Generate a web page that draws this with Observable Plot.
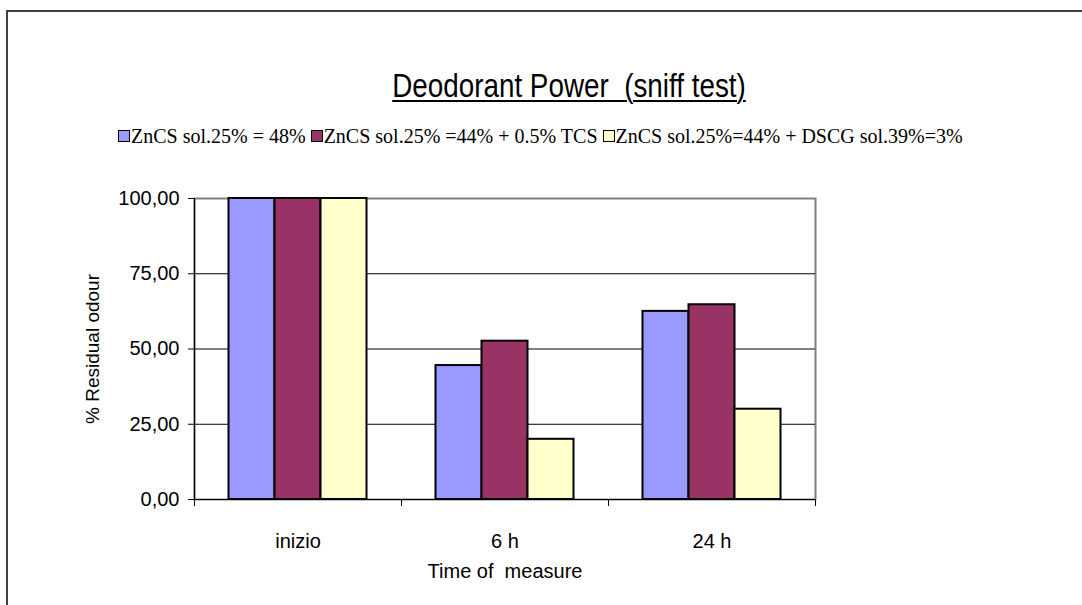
<!DOCTYPE html>
<html>
<head>
<meta charset="utf-8">
<script src="https://cdn.jsdelivr.net/npm/d3@7"></script>
<script src="https://cdn.jsdelivr.net/npm/@observablehq/plot@0.6"></script>
<style>
  html, body { margin: 0; padding: 0; background: #fff; }
  #page { position: relative; width: 1082px; height: 605px; overflow: hidden; background: #fff; }
  #box { position: absolute; left: 6px; top: 10px; width: 1200px; height: 700px;
         border-left: 2px solid #404040; border-top: 2px solid #404040; }
  #title { position: absolute; left: 569px; top: 69px; line-height: 1; white-space: pre;
           transform: translateX(-50%) scaleX(0.843); transform-origin: 50% 50%;
           font-family: "Liberation Sans", Arial, sans-serif; font-size: 33px; color: #000;
           text-decoration: underline; text-decoration-thickness: 2px; text-underline-offset: 3px; }
  #legend { position: absolute; left: 118px; top: 126px; line-height: 1; white-space: pre;
            font-family: "Liberation Serif", "Times New Roman", serif; font-size: 20px; color: #000;
            display: flex; align-items: center; }
  #legend .item { display: inline-flex; align-items: center; margin-right: 5px; }
  #legend .sw { display: inline-block; width: 10px; height: 10px; border: 1px solid #000; margin-right: 1px; }
  #chart { position: absolute; left: 0; top: 130px; }
</style>
</head>
<body>
<div id="page">
  <div id="box"></div>
  <div id="title">Deodorant Power  (sniff test)</div>
  <div id="legend"></div>
  <div id="chart"></div>
</div>
<script>
// Measurement times (categories) and the three formulations tested
const times = ["inizio", "6 h", "24 h"];
const series = [
  "ZnCS sol.25% = 48%",
  "ZnCS sol.25% =44% + 0.5% TCS",
  "ZnCS sol.25%=44% + DSCG sol.39%=3%"
];
const colors = ["#9999FF", "#993366", "#FFFFCC"];

// % residual odour per series, one value per time
const valuesA = [100, 44.5, 62.5];
const valuesB = [100, 52.6, 64.7];
const valuesC = [100, 20.0, 30.0];

const yTicks = [0, 25, 50, 75, 100];

// Grouped-bar layout: each time occupies one unit on x; bars are
// one unit / 4.5 wide with 0.75 bar-widths of gap on each side of the group.
const slot = 1 / 4.5;
const rows = [];
[valuesA, valuesB, valuesC].forEach((vals, j) => {
  vals.forEach((v, i) => {
    rows.push({
      time: times[i],
      series: series[j],
      value: v,
      x1: i + (0.75 + j) * slot,
      x2: i + (1.75 + j) * slot
    });
  });
});

const fmt = d => d.toFixed(2).replace(".", ",");

const chart = Plot.plot({
  width: 1082,
  height: 475,
  marginLeft: 194,
  marginRight: 267,
  marginTop: 68,
  marginBottom: 106,
  style: { fontFamily: "Liberation Sans, Arial, sans-serif", fontSize: "20px", color: "#000", background: "transparent" },
  x: { type: "linear", domain: [0, 3] },
  y: { domain: [0, 100] },
  color: { domain: series, range: colors },
  marks: [
    Plot.frame({ stroke: "#808080", strokeWidth: 2 }),
    Plot.ruleY([25, 50, 75], { stroke: "#000", strokeWidth: 1 }),
    Plot.rectY(rows, { x1: "x1", x2: "x2", y1: 0, y2: "value", fill: "series", stroke: "#000", strokeWidth: 2 }),
    Plot.ruleY([0], { stroke: "#000", strokeWidth: 1.2 }),
    Plot.ruleX([0], { stroke: "#000", strokeWidth: 1.2 }),
    Plot.axisY({
      ticks: yTicks, tickFormat: fmt, tickSize: 6, tickPadding: 9, fontSize: 20, label: null
    }),
    Plot.axisY({
      ticks: [], tickSize: 0, fontSize: 19,
      label: "% Residual odour", labelAnchor: "center", labelOffset: 109, labelArrow: "none"
    }),
    Plot.axisX({ ticks: [0, 1, 2, 3], tickSize: 7, tickFormat: () => "", label: null }),
    Plot.axisX({
      ticks: [0.5, 1.5, 2.5], tickSize: 0, tickPadding: 34, fontSize: 20,
      tickFormat: d => times[Math.round(d - 0.5)],
      label: "Time of  measure", labelAnchor: "center", labelOffset: 78, labelArrow: "none"
    })
  ]
});
document.getElementById("chart").append(chart);

// Legend row above the chart
const legend = document.getElementById("legend");
series.forEach((s, j) => {
  const item = document.createElement("span");
  item.className = "item";
  const sw = document.createElement("span");
  sw.className = "sw";
  sw.style.background = colors[j];
  item.append(sw, document.createTextNode(s));
  legend.append(item);
});
</script>
</body>
</html>
